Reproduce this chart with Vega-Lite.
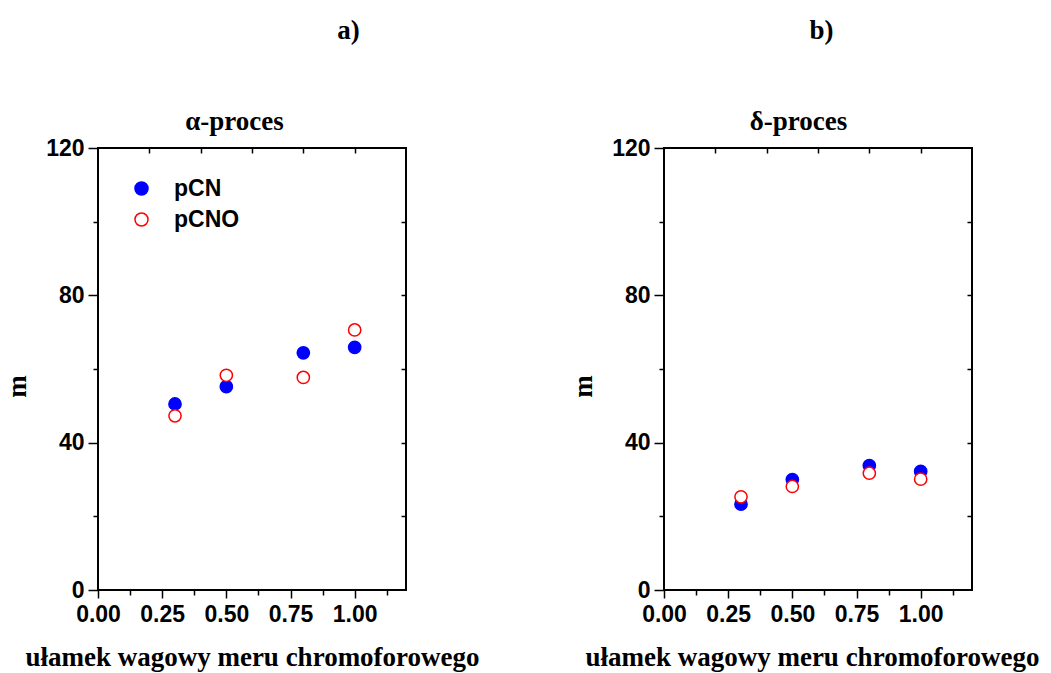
{
  "$schema": "https://vega.github.io/schema/vega-lite/v6.json",
  "background": "white",
  "padding": {"left": 2, "top": 15, "right": 5, "bottom": 5},
  "datasets": {
    "alpha": [
      {"x": 0.3, "m": 50.5, "series": "pCN"},
      {"x": 0.5, "m": 55.2, "series": "pCN"},
      {"x": 0.8, "m": 64.4, "series": "pCN"},
      {"x": 1.0, "m": 65.9, "series": "pCN"},
      {"x": 0.3, "m": 47.3, "series": "pCNO"},
      {"x": 0.5, "m": 58.3, "series": "pCNO"},
      {"x": 0.8, "m": 57.7, "series": "pCNO"},
      {"x": 1.0, "m": 70.6, "series": "pCNO"}
    ],
    "delta": [
      {"x": 0.3, "m": 23.3, "series": "pCN"},
      {"x": 0.5, "m": 30.0, "series": "pCN"},
      {"x": 0.8, "m": 33.8, "series": "pCN"},
      {"x": 1.0, "m": 32.2, "series": "pCN"},
      {"x": 0.3, "m": 25.3, "series": "pCNO"},
      {"x": 0.5, "m": 28.1, "series": "pCNO"},
      {"x": 0.8, "m": 31.7, "series": "pCNO"},
      {"x": 1.0, "m": 30.1, "series": "pCNO"}
    ]
  },
  "hconcat": [
    {
      "width": 308,
      "height": 442,
      "data": {"name": "alpha"},
      "layer": [
        {
          "mark": {"type": "point", "shape": "circle", "size": 150, "strokeWidth": 1.5, "opacity": 1},
          "encoding": {
            "x": {"field": "x", "type": "quantitative", "scale": {"domain": [0, 1.2], "nice": false, "zero": false},
              "axis": {"orient": "bottom", "values": [0, 0.25, 0.5, 0.75, 1], "format": ".2f", "tickSize": 8, "labelPadding": 5, "labelFlush": false, "labelOverlap": false,
                "title": "ułamek wagowy meru chromoforowego", "titleX": 154, "titleY": 75, "titleBaseline": "alphabetic", "titleAlign": "center"}},
            "y": {"field": "m", "type": "quantitative", "scale": {"domain": [0, 120], "nice": false},
              "axis": {"orient": "left", "values": [0, 40, 80, 120], "tickSize": 10, "labelPadding": 4, "labelOverlap": false,
                "title": "m", "titleX": -73, "titleY": 238, "titleBaseline": "alphabetic", "titleAngle": 270, "titleAlign": "center"}},
            "stroke": {"field": "series", "type": "nominal", "scale": {"domain": ["pCN", "pCNO"], "range": ["#0000ff", "#ff0000"]},
              "legend": {"title": null, "orient": "none", "legendX": 32, "legendY": 29, "padding": 0, "rowPadding": 7, "labelOffset": 21, "symbolSize": 170, "symbolStrokeWidth": 1.5, "symbolType": "circle", "labelFont": "Liberation Sans", "labelFontWeight": "bold", "labelFontSize": 23, "labelColor": "black"}},
            "fill": {"field": "series", "type": "nominal", "scale": {"domain": ["pCN", "pCNO"], "range": ["#0000ff", "#ffffff"]},
              "legend": {"title": null, "orient": "none", "legendX": 32, "legendY": 29, "padding": 0, "rowPadding": 7, "labelOffset": 21, "symbolSize": 170, "symbolStrokeWidth": 1.5, "symbolType": "circle", "labelFont": "Liberation Sans", "labelFontWeight": "bold", "labelFontSize": 23, "labelColor": "black"}}
          }
        },
        {
          "mark": {"type": "point", "opacity": 0},
          "encoding": {
            "x": {"field": "x", "type": "quantitative", "scale": {"domain": [0, 1.2], "nice": false, "zero": false},
              "axis": {"orient": "bottom", "values": [0.125, 0.375, 0.625, 0.875, 1.125], "tickSize": 5, "labels": false, "title": null}},
            "y": {"field": "m", "type": "quantitative", "scale": {"domain": [0, 120], "nice": false},
              "axis": {"orient": "left", "values": [20, 60, 100], "tickSize": 5, "labels": false, "title": null}}
          }
        },
        {
          "mark": {"type": "point", "opacity": 0},
          "encoding": {
            "x": {"field": "x", "type": "quantitative", "scale": {"domain": [0, 1.2], "nice": false, "zero": false},
              "axis": {"orient": "top", "values": [0.2, 0.4, 0.6, 0.8, 1.0], "tickSize": -5, "labels": false,
                "title": "α-proces", "titleX": 136, "titleY": -19, "titleBaseline": "alphabetic", "titleAlign": "center"}},
            "y": {"field": "m", "type": "quantitative", "scale": {"domain": [0, 120], "nice": false},
              "axis": {"orient": "right", "values": [20, 40, 60, 80, 100], "tickSize": -5, "labels": false, "title": null}}
          }
        },
        {
          "mark": {"type": "point", "opacity": 0},
          "encoding": {
            "x": {"field": "x", "type": "quantitative", "scale": {"domain": [0, 1.2], "nice": false, "zero": false},
              "axis": {"orient": "top", "ticks": false, "labels": false,
                "title": "a)", "titleX": 250, "titleY": -110, "titleBaseline": "alphabetic", "titleAlign": "center"}},
            "y": {"field": "m", "type": "quantitative", "scale": {"domain": [0, 120], "nice": false}, "axis": null}
          }
        }
      ],
      "resolve": {"axis": {"x": "independent", "y": "independent"}}
    },
    {
      "width": 308,
      "height": 442,
      "data": {"name": "delta"},
      "layer": [
        {
          "mark": {"type": "point", "shape": "circle", "size": 150, "strokeWidth": 1.5, "opacity": 1},
          "encoding": {
            "x": {"field": "x", "type": "quantitative", "scale": {"domain": [0, 1.2], "nice": false, "zero": false},
              "axis": {"orient": "bottom", "values": [0, 0.25, 0.5, 0.75, 1], "format": ".2f", "tickSize": 8, "labelPadding": 5, "labelFlush": false, "labelOverlap": false,
                "title": "ułamek wagowy meru chromoforowego", "titleX": 148, "titleY": 75, "titleBaseline": "alphabetic", "titleAlign": "center"}},
            "y": {"field": "m", "type": "quantitative", "scale": {"domain": [0, 120], "nice": false},
              "axis": {"orient": "left", "values": [0, 40, 80, 120], "tickSize": 10, "labelPadding": 4, "labelOverlap": false,
                "title": "m", "titleX": -73, "titleY": 238, "titleBaseline": "alphabetic", "titleAngle": 270, "titleAlign": "center"}},
            "stroke": {"field": "series", "type": "nominal", "scale": {"domain": ["pCN", "pCNO"], "range": ["#0000ff", "#ff0000"]},
              "legend": {"title": null, "orient": "none", "legendX": 32, "legendY": 29, "padding": 0, "rowPadding": 7, "labelOffset": 21, "symbolSize": 170, "symbolStrokeWidth": 1.5, "symbolType": "circle", "labelFont": "Liberation Sans", "labelFontWeight": "bold", "labelFontSize": 23, "labelColor": "black"}},
            "fill": {"field": "series", "type": "nominal", "scale": {"domain": ["pCN", "pCNO"], "range": ["#0000ff", "#ffffff"]},
              "legend": {"title": null, "orient": "none", "legendX": 32, "legendY": 29, "padding": 0, "rowPadding": 7, "labelOffset": 21, "symbolSize": 170, "symbolStrokeWidth": 1.5, "symbolType": "circle", "labelFont": "Liberation Sans", "labelFontWeight": "bold", "labelFontSize": 23, "labelColor": "black"}}
          }
        },
        {
          "mark": {"type": "point", "opacity": 0},
          "encoding": {
            "x": {"field": "x", "type": "quantitative", "scale": {"domain": [0, 1.2], "nice": false, "zero": false},
              "axis": {"orient": "bottom", "values": [0.125, 0.375, 0.625, 0.875, 1.125], "tickSize": 5, "labels": false, "title": null}},
            "y": {"field": "m", "type": "quantitative", "scale": {"domain": [0, 120], "nice": false},
              "axis": {"orient": "left", "values": [20, 60, 100], "tickSize": 5, "labels": false, "title": null}}
          }
        },
        {
          "mark": {"type": "point", "opacity": 0},
          "encoding": {
            "x": {"field": "x", "type": "quantitative", "scale": {"domain": [0, 1.2], "nice": false, "zero": false},
              "axis": {"orient": "top", "values": [0.2, 0.4, 0.6, 0.8, 1.0], "tickSize": -5, "labels": false,
                "title": "δ-proces", "titleX": 134, "titleY": -19, "titleBaseline": "alphabetic", "titleAlign": "center"}},
            "y": {"field": "m", "type": "quantitative", "scale": {"domain": [0, 120], "nice": false},
              "axis": {"orient": "right", "values": [20, 40, 60, 80, 100], "tickSize": -5, "labels": false, "title": null}}
          }
        },
        {
          "mark": {"type": "point", "opacity": 0},
          "encoding": {
            "x": {"field": "x", "type": "quantitative", "scale": {"domain": [0, 1.2], "nice": false, "zero": false},
              "axis": {"orient": "top", "ticks": false, "labels": false,
                "title": "b)", "titleX": 157, "titleY": -110, "titleBaseline": "alphabetic", "titleAlign": "center"}},
            "y": {"field": "m", "type": "quantitative", "scale": {"domain": [0, 120], "nice": false}, "axis": null}
          }
        }
      ],
      "resolve": {"axis": {"x": "independent", "y": "independent"}}
    }
  ],
  "spacing": 258,
  "bounds": "flush",
  "config": {
    "view": {"stroke": "black", "strokeWidth": 2},
    "axis": {
      "domain": false,
      "grid": false,
      "labelFont": "Liberation Sans",
      "labelFontWeight": "bold",
      "labelFontSize": 23,
      "labelColor": "black",
      "tickColor": "black",
      "tickWidth": 1.5,
      "titleFont": "Liberation Serif",
      "titleFontWeight": "bold",
      "titleFontSize": 27,
      "titleColor": "black"
    }
  }
}
